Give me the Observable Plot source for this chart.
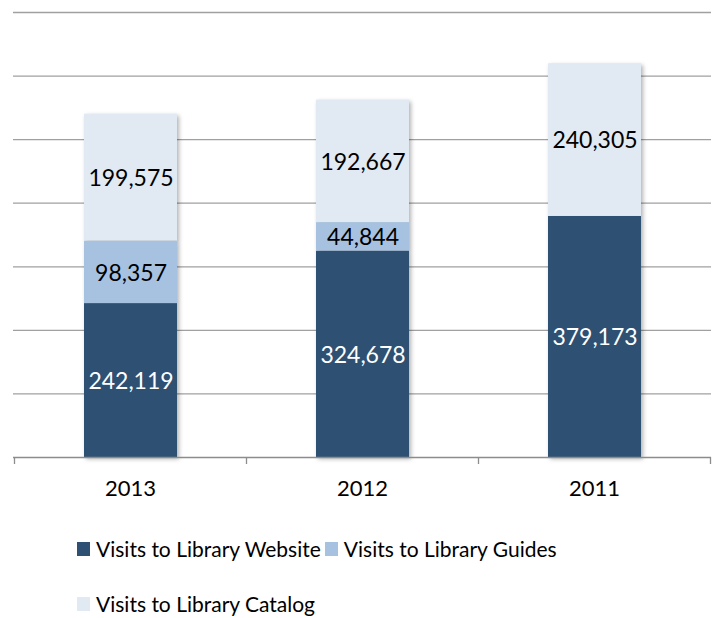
<!DOCTYPE html>
<html>
<head>
<meta charset="utf-8">
<script src="https://cdn.jsdelivr.net/npm/d3@7"></script>
<script src="https://cdn.jsdelivr.net/npm/@observablehq/plot@0.6"></script>
<style>
  html, body { margin: 0; padding: 0; background: #fff; }
  body { width: 719px; height: 618px; overflow: hidden; font-family: Lato, "Open Sans", sans-serif; }
  #legend { display: flex; flex-wrap: wrap; padding-left: 77px; width: 620px; margin-top: 31px; row-gap: 20px; column-gap: 4px; }
  .item { display: flex; align-items: center; font-size: 21px; color: #000; height: 35px; }
  .sw { width: 13px; height: 14px; margin-right: 6px; }
</style>
</head>
<body>
<div id="chart"></div>
<div id="legend"></div>
<script>
const years = ["2013", "2012", "2011"];
const seriesNames = ["Visits to Library Website", "Visits to Library Guides", "Visits to Library Catalog"];
const website = [242119, 324678, 379173];
const guides = [98357, 44844, 0];
const catalog = [199575, 192667, 240305];
const colors = ["#2E5073", "#A7C2E1", "#E1E9F3"];
const labelColors = ["#ffffff", "#000000", "#000000"];
const gridTicks = [100000, 200000, 300000, 400000, 500000, 600000, 700000];

const seriesValues = [website, guides, catalog];
const data = [];
seriesNames.forEach((s, i) => years.forEach((y, j) => {
  data.push({year: y, series: s, value: seriesValues[i][j], idx: i});
}));
const nonZero = data.filter(d => d.value > 0);

const val = v => (typeof v === "function" ? v() : v);

const chart = Plot.plot({
  width: 719,
  height: 500,
  marginLeft: 13,
  marginRight: 8,
  marginTop: 12,
  marginBottom: 43,
  style: {fontFamily: "Lato, 'Open Sans', sans-serif", background: "#fff"},
  x: {domain: years, paddingInner: 0.6, paddingOuter: 0.3, axis: null},
  y: {domain: [0, 700000], axis: null},
  color: {domain: seriesNames, range: colors},
  marks: [
    Plot.ruleY(gridTicks, {stroke: "#A0A0A0", strokeWidth: 1.3}),
    Plot.barY(nonZero, Plot.stackY({x: "year", y: "value", fill: "series", order: seriesNames})),
    Plot.text(nonZero, Plot.stackY({
      x: "year", y: "value", order: seriesNames,
      text: d => d3.format(",")(d.value),
      fill: d => labelColors[d.idx],
      fontSize: 23,
      dy: 1
    })),
    Plot.ruleY([0], {stroke: "#8C8C8C", strokeWidth: 1.3}),
    // category boundary ticks and year labels under the axis
    (index, scales, values, dims) => {
      const g = d3.create("svg:g");
      const xs = scales.x;
      const bw = val(xs.bandwidth);
      const step = xs.step !== undefined ? val(xs.step) : bw / 0.4;
      const pad = (step - bw) / 2;
      const y0 = scales.y(0);
      const edges = years.map(y => xs(y) - pad);
      edges.push(xs(years[years.length - 1]) + bw + pad);
      edges.forEach(x => {
        g.append("line").attr("x1", x).attr("x2", x).attr("y1", y0).attr("y2", y0 + 7)
          .attr("stroke", "#8C8C8C").attr("stroke-width", 1.3);
      });
      years.forEach(y => {
        g.append("text").attr("x", xs(y) + bw / 2).attr("y", y0 + 39)
          .attr("text-anchor", "middle").attr("font-size", 22).attr("fill", "#000")
          .text(y);
      });
      return g.node();
    }
  ]
});
document.getElementById("chart").appendChild(chart);
chart.querySelectorAll('g[aria-label="bar"]').forEach(g => {
  g.style.filter = "drop-shadow(2px 2px 2px rgba(0,0,0,0.3))";
});

const legend = document.getElementById("legend");
seriesNames.forEach((s, i) => {
  const it = document.createElement("div");
  it.className = "item";
  const sw = document.createElement("div");
  sw.className = "sw";
  sw.style.background = colors[i];
  it.appendChild(sw);
  const t = document.createElement("span");
  t.textContent = s;
  it.appendChild(t);
  legend.appendChild(it);
});
</script>
</body>
</html>
